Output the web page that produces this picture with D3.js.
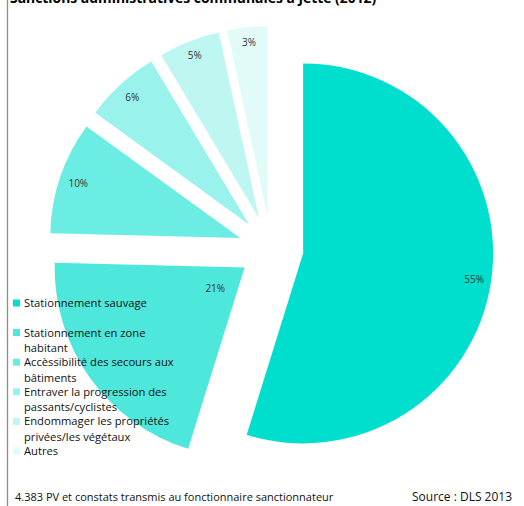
<!DOCTYPE html>
<html>
<head>
<meta charset="utf-8">
<script src="https://cdn.jsdelivr.net/npm/d3@7"></script>
<style>
  html, body { margin: 0; padding: 0; background: #fff; }
  svg { display: block; }
  text { font-family: "Open Sans", Lato, sans-serif; }
</style>
</head>
<body>
<svg id="chart" width="524" height="506"></svg>
<script>
// ---- data ----
const title = "Sanctions administratives communales à Jette (2012)";
const categories = [
  "Stationnement sauvage",
  "Stationnement en zone habitant",
  "Accèssibilité des secours aux bâtiments",
  "Entraver la progression des passants/cyclistes",
  "Endommager les propriétés privées/les végétaux",
  "Autres"
];
const legendLines = [
  ["Stationnement sauvage"],
  ["Stationnement en zone", "habitant"],
  ["Accèssibilité des secours aux", "bâtiments"],
  ["Entraver la progression des", "passants/cyclistes"],
  ["Endommager les propriétés", "privées/les végétaux"],
  ["Autres"]
];
const values = [54.8, 20.6, 9.6, 6.4, 5.2, 3.4];
const valueLabels = ["55%", "21%", "10%", "6%", "5%", "3%"];
const footLeft = "4.383 PV et constats transmis au fonctionnaire sanctionnateur";
const footRight = "Source : DLS 2013";

// ---- layout / style ----
const colors = ["#00DECE", "#4DE7DB", "#6BEDE3", "#99F2EB", "#BEF6F2", "#E1FBF9"];
const labelFrac = [0.91, 0.19, 0.90, 0.91, 0.92, 0.92];
const cx = 271, cy = 248.5, R = 190, explode = 32.5;

const svg = d3.select("#chart");

// left border line
svg.append("line").attr("x1", 7.5).attr("x2", 7.5).attr("y1", 0).attr("y2", 506)
  .attr("stroke", "#8c8c8c").attr("stroke-width", 1.3);

// title (clipped at top as in the source)
svg.append("text").attr("x", 10).attr("y", 3)
  .attr("font-size", 13.9).attr("font-weight", "bold").attr("fill", "#000")
  .text(title);

const pie = d3.pie().sort(null).startAngle(0).endAngle(2 * Math.PI);
const arcs = pie(values);
const arc = d3.arc().innerRadius(0).outerRadius(R);

const g = svg.append("g").attr("transform", `translate(${cx},${cy})`);
const slice = g.selectAll("g.slice").data(arcs).enter().append("g")
  .attr("class", "slice")
  .attr("transform", d => {
    const m = (d.startAngle + d.endAngle) / 2;
    return `translate(${Math.sin(m) * explode},${-Math.cos(m) * explode})`;
  });
slice.append("path").attr("d", arc).attr("fill", (d, i) => colors[i]);
slice.append("text")
  .attr("x", (d, i) => Math.sin((d.startAngle + d.endAngle) / 2) * R * labelFrac[i])
  .attr("y", (d, i) => -Math.cos((d.startAngle + d.endAngle) / 2) * R * labelFrac[i])
  .attr("text-anchor", "middle").attr("dy", "0.35em")
  .attr("font-size", 10).attr("fill", "#333")
  .text((d, i) => valueLabels[i]);

// legend
const legendY = d3.scalePoint().domain(categories).range([303, 451]);
const lg = svg.append("g");
const item = lg.selectAll("g").data(categories).enter().append("g")
  .attr("transform", d => `translate(0,${legendY(d)})`);
item.append("rect").attr("x", 13).attr("y", -3.5).attr("width", 7).attr("height", 7)
  .attr("fill", (d, i) => colors[i]);
item.each(function(d, i) {
  const t = d3.select(this).append("text").attr("x", 24).attr("y", 4)
    .attr("font-size", 11.2).attr("fill", "#111");
  legendLines[i].forEach((ln, j) => {
    t.append("tspan").attr("x", 24).attr("dy", j === 0 ? 0 : 15.5).text(ln);
  });
});

// footer
svg.append("text").attr("x", 15).attr("y", 500.5).attr("font-size", 11).attr("fill", "#111")
  .text(footLeft);
svg.append("text").attr("x", 412).attr("y", 500.5).attr("font-size", 12).attr("fill", "#111")
  .text(footRight);
</script>
</body>
</html>
